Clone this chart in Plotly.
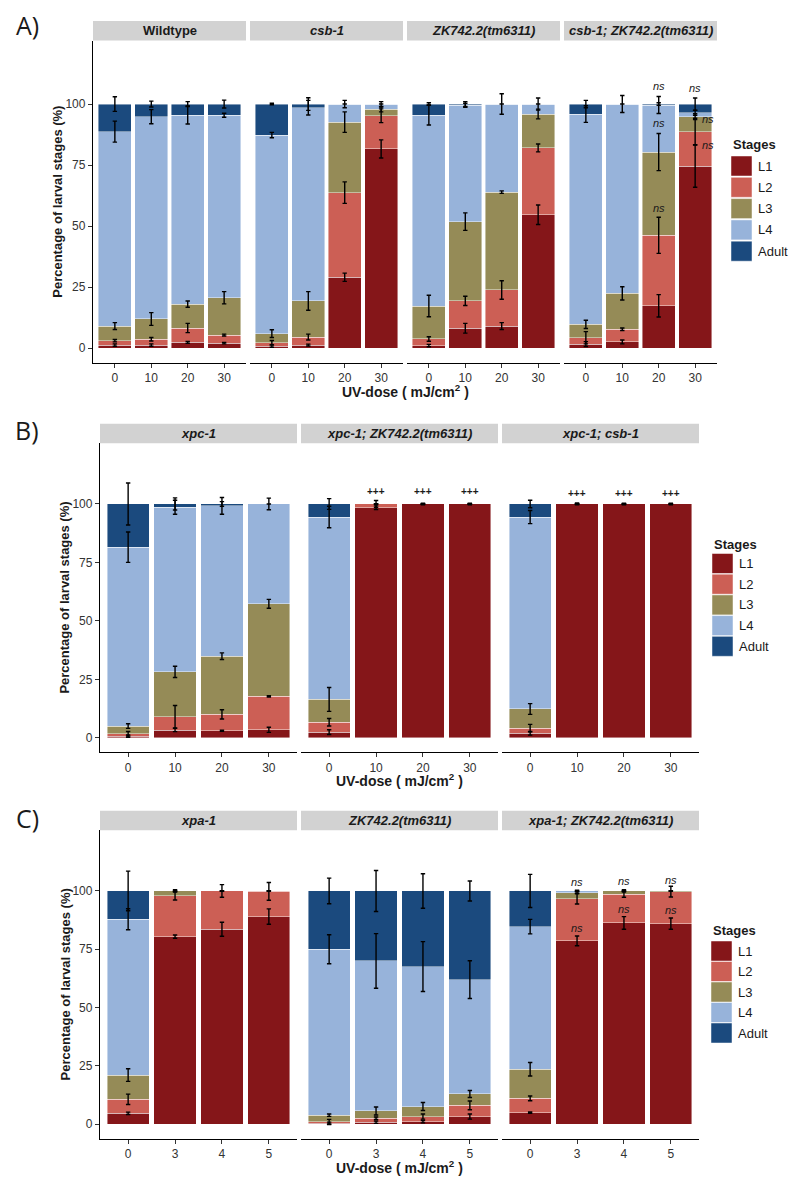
import numpy as np
import plotly.graph_objects as go

# page body has an 8 px default margin: the figure is placed at (8, 8)
OFF = 8
W, H = 784, 1171
STAGES = ["L1", "L2", "L3", "L4", "Adult"]
STAGE_COLORS = ["#851619", "#CC5F55", "#958B57", "#97B3DA", "#1B4A7E"]

# ---------------- Panel A (UV 0-30 mJ/cm2) ----------------
doses_A = ["0", "10", "20", "30"]
groups_A = ["Wildtype", "csb-1", "ZK742.2(tm6311)", "csb-1; ZK742.2(tm6311)"]
# rows = doses, columns = L1, L2, L3, L4, Adult (percent)
wildtype_pct = [[1.2, 1.8, 6.0, 79.7, 11.3], [1.2, 2.4, 8.3, 82.9, 5.2],
                [2.3, 5.9, 9.8, 77.5, 4.5], [2.0, 3.3, 15.3, 74.8, 4.6]]
wildtype_err = [[0.5, 0.5, 1.4, 4.3, 3.0], [0.5, 0.7, 2.6, 2.9, 1.2],
                [0.4, 1.9, 1.3, 3.7, 1.0], [0.3, 0.4, 2.5, 0.8, 1.6]]
csb1_pct = [[0.8, 1.4, 3.7, 81.4, 12.7], [1.2, 3.3, 14.8, 79.2, 1.5],
            [29.0, 34.7, 28.9, 7.4, 0.0], [81.6, 13.6, 2.6, 2.2, 0.0]]
csb1_err = [[0.5, 0.9, 1.6, 1.1, 0.3], [0.4, 1.2, 3.8, 3.0, 2.6],
            [1.7, 4.4, 4.2, 1.5, 0.0], [3.7, 2.8, 1.0, 1.0, 0.0]]
zk_pct = [[1.0, 2.7, 13.5, 78.3, 4.5], [8.1, 11.2, 32.5, 47.7, 0.5],
          [9.0, 14.8, 40.1, 36.1, 0.0], [54.6, 27.4, 13.9, 4.1, 0.0]]
zk_err = [[0.5, 0.9, 4.4, 4.1, 0.5], [2.0, 1.9, 3.6, 0.8, 1.0],
          [1.4, 3.8, 0.5, 4.2, 0.0], [4.0, 1.6, 2.0, 2.5, 0.0]]
csb1_zk_pct = [[1.6, 2.6, 5.5, 86.2, 4.1], [2.5, 5.2, 14.7, 77.6, 0.0],
               [17.3, 28.9, 34.1, 19.3, 0.4], [74.6, 14.1, 6.1, 1.6, 3.6]]
csb1_zk_err = [[1.0, 2.5, 1.7, 3.4, 1.5], [0.8, 0.5, 2.7, 3.5, 0.0],
               [4.6, 7.4, 7.6, 3.5, 0.5], [8.7, 5.5, 1.2, 1.0, 2.5]]

# ---------------- Panel B (UV 0-30 mJ/cm2) ----------------
doses_B = ["0", "10", "20", "30"]
groups_B = ["xpc-1", "xpc-1; ZK742.2(tm6311)", "xpc-1; csb-1"]
xpc1_pct = [[0.7, 1.0, 3.3, 76.5, 18.5], [3.3, 5.7, 19.2, 70.4, 1.4],
            [3.0, 7.0, 24.9, 64.3, 0.8], [3.4, 14.3, 39.6, 42.7, 0.0]]
xpc1_err = [[0.5, 1.0, 1.0, 6.5, 9.0], [0.7, 4.8, 2.4, 3.0, 2.6],
            [0.2, 2.0, 1.4, 3.6, 1.0], [1.1, 0.3, 1.9, 2.5, 0.0]]
xpc1_zk_pct = [[2.4, 4.2, 9.8, 78.0, 5.6], [98.4, 1.6, 0.0, 0.0, 0.0],
               [100.0, 0.0, 0.0, 0.0, 0.0], [100.0, 0.0, 0.0, 0.0, 0.0]]
xpc1_zk_err = [[1.0, 1.6, 5.1, 4.6, 2.3], [0.8, 1.5, 0.0, 0.0, 0.0],
               [0.3, 0.0, 0.0, 0.0, 0.0], [0.3, 0.0, 0.0, 0.0, 0.0]]
xpc1_csb1_pct = [[1.9, 2.2, 8.2, 82.1, 5.6], [100.0, 0.0, 0.0, 0.0, 0.0],
                 [100.0, 0.0, 0.0, 0.0, 0.0], [100.0, 0.0, 0.0, 0.0, 0.0]]
xpc1_csb1_err = [[0.8, 1.6, 2.3, 2.8, 1.6], [0.4, 0.0, 0.0, 0.0, 0.0],
                 [0.3, 0.0, 0.0, 0.0, 0.0], [0.3, 0.0, 0.0, 0.0, 0.0]]

# ---------------- Panel C (UV 0-5 mJ/cm2) ----------------
doses_C = ["0", "3", "4", "5"]
groups_C = ["xpa-1", "ZK742.2(tm6311)", "xpa-1; ZK742.2(tm6311)"]
xpa1_pct = [[4.7, 6.0, 10.4, 66.8, 12.1], [80.4, 17.5, 2.1, 0.0, 0.0],
            [83.6, 16.4, 0.0, 0.0, 0.0], [89.0, 10.8, 0.2, 0.0, 0.0]]
xpa1_err = [[0.5, 2.2, 2.7, 4.5, 8.5], [0.7, 1.8, 0.5, 0.0, 0.0],
            [3.0, 2.7, 0.0, 0.0, 0.0], [3.3, 3.8, 0.0, 0.0, 0.0]]
zkC_pct = [[0.4, 0.7, 2.8, 71.1, 25.0], [0.9, 1.7, 3.1, 64.3, 30.0],
           [1.1, 2.2, 4.3, 60.0, 32.4], [3.3, 4.8, 4.9, 49.0, 38.0]]
zkC_err = [[0.5, 1.0, 0.5, 6.2, 5.5], [0.5, 0.5, 1.7, 11.7, 8.8],
           [0.5, 1.1, 1.7, 10.7, 7.4], [1.1, 1.9, 1.5, 8.1, 4.3]]
xpa1_zk_pct = [[5.0, 6.1, 12.5, 61.1, 15.3], [78.6, 18.1, 2.6, 0.7, 0.0],
               [86.3, 12.3, 1.4, 0.0, 0.0], [86.0, 13.7, 0.3, 0.0, 0.0]]
xpa1_zk_err = [[0.3, 1.0, 2.9, 3.1, 7.1], [2.1, 2.3, 0.5, 0.3, 0.0],
               [2.7, 1.3, 0.5, 0.0, 0.0], [2.4, 2.3, 0.0, 0.0, 0.0]]

# significance marks: (panel index in row, dose index, y value, text, x shift px)
marks_A = [(3, 2, 107.5, "ns", 0), (3, 2, 92.3, "ns", 0), (3, 2, 57.5, "ns", 0),
           (3, 3, 106.4, "ns", 0), (3, 3, 93.7, "ns", 13), (3, 3, 83.2, "ns", 13)]
marks_B = [(1, 1, 105.5, "+++", 0), (1, 2, 105.5, "+++", 0), (1, 3, 105.5, "+++", 0),
           (2, 1, 104.6, "+++", 0), (2, 2, 104.6, "+++", 0), (2, 3, 104.6, "+++", 0)]
marks_C = [(2, 1, 104.0, "ns", 0), (2, 1, 84.0, "ns", 0),
           (2, 2, 104.3, "ns", 0), (2, 2, 92.3, "ns", 0),
           (2, 3, 104.7, "ns", 0), (2, 3, 91.9, "ns", 0)]

FONT = "Liberation Sans, Arial, Helvetica, sans-serif"
Y_RANGE = [-6.1, 126]


def PX(v):
    return (v - OFF) / W


def PY(v):
    return 1 - (v - OFF) / H


rows = [
    dict(label="A)", label_y=25, doses=doses_A, groups=groups_A,
         pct=[wildtype_pct, csb1_pct, zk_pct, csb1_zk_pct],
         err=[wildtype_err, csb1_err, zk_err, csb1_zk_err],
         xdom=[(93, 246), (250, 403), (407, 560), (564, 717)],
         ytop=40.6, ybot=362.9, marks=marks_A,
         leg_x=731, leg_title_y=145, leg_y0=156, leg_step=21.3),
    dict(label="B)", label_y=430, doses=doses_B, groups=groups_B,
         pct=[xpc1_pct, xpc1_zk_pct, xpc1_csb1_pct],
         err=[xpc1_err, xpc1_zk_err, xpc1_csb1_err],
         xdom=[(100, 297), (301, 498), (502, 699)],
         ytop=443.2, ybot=752.0, marks=marks_B,
         leg_x=712, leg_title_y=544, leg_y0=553.5, leg_step=20.7),
    dict(label="C)", label_y=818, doses=doses_C, groups=groups_C,
         pct=[xpa1_pct, zkC_pct, xpa1_zk_pct],
         err=[xpa1_err, zkC_err, xpa1_zk_err],
         xdom=[(100, 297), (301, 498), (502, 699)],
         ytop=830.3, ybot=1138.5, marks=marks_C,
         leg_x=711, leg_title_y=930, leg_y0=941, leg_step=20.5),
]

fig = go.Figure()
layout = dict(width=W, height=H, margin=dict(l=0, r=0, t=0, b=0),
              paper_bgcolor="white", plot_bgcolor="white", barmode="stack",
              showlegend=False, font=dict(family=FONT, color="#1a1a1a"))
shapes, annots = [], []

n = 0
for row in rows:
    first_n = n + 1
    for gi, gname in enumerate(row["groups"]):
        n += 1
        xa, ya = f"x{n}", f"y{n}"
        pct = np.array(row["pct"][gi], dtype=float)
        err = np.array(row["err"][gi], dtype=float)
        tops = np.cumsum(pct, axis=1)
        for si, stage in enumerate(STAGES):
            fig.add_trace(go.Bar(
                x=row["doses"], y=pct[:, si], name=stage, xaxis=xa, yaxis=ya,
                width=0.9, marker=dict(color=STAGE_COLORS[si],
                                       line=dict(color="rgba(255,255,255,0.55)", width=0.8)),
                hoverinfo="skip"))
        for si, stage in enumerate(STAGES):
            fig.add_trace(go.Scatter(
                x=row["doses"], y=tops[:, si], mode="markers", xaxis=xa, yaxis=ya,
                marker=dict(size=1, color="rgba(0,0,0,0)"),
                error_y=dict(type="data", array=err[:, si], visible=True,
                             color="black", thickness=1.4, width=2.2),
                hoverinfo="skip"))
        x0, x1 = row["xdom"][gi]
        is_first = gi == 0
        layout[f"xaxis{n}"] = dict(
            domain=[PX(x0), PX(x1)], anchor=ya, type="category",
            categoryorder="array", categoryarray=row["doses"],
            range=[-0.6, len(row["doses"]) - 0.4],
            showline=True, linecolor="black", linewidth=1.3, mirror=False,
            ticks="outside", ticklen=4, tickwidth=1, tickcolor="#333333",
            tickfont=dict(family=FONT, size=12, color="#333333"),
            showgrid=False, zeroline=False, fixedrange=True)
        layout[f"yaxis{n}"] = dict(
            domain=[PY(row["ybot"]), PY(row["ytop"])], anchor=xa,
            range=Y_RANGE, tickvals=[0, 25, 50, 75, 100],
            showline=is_first, linecolor="black", linewidth=1.3,
            ticks="outside" if is_first else "", ticklen=4, tickwidth=1,
            tickcolor="#333333", showticklabels=is_first,
            tickfont=dict(family=FONT, size=12, color="#333333"),
            showgrid=False, zeroline=False, fixedrange=True)
        # strip
        shapes.append(dict(type="rect", xref="paper", yref="paper",
                           x0=PX(x0), x1=PX(x1),
                           y0=PY(row["ytop"]), y1=PY(row["ytop"] - 19.5),
                           fillcolor="#D2D2D2", line=dict(width=0), layer="below"))
        stxt = f"<b>{gname}</b>" if gname == "Wildtype" else f"<b><i>{gname}</i></b>"
        annots.append(dict(text=stxt, xref="paper", yref="paper",
                           x=PX((x0 + x1) / 2), y=PY(row["ytop"] - 9.8),
                           xanchor="center", yanchor="middle", showarrow=False,
                           font=dict(family=FONT, size=13, color="#1a1a1a")))
    # significance marks (x given as category index)
    for (pi, di, yv, txt, xs) in row["marks"]:
        ax = first_n + pi
        annots.append(dict(text=f"<i>{txt}</i>" if txt == "ns" else f"<b>{txt}</b>",
                           xref=f"x{ax}", yref=f"y{ax}",
                           x=di, y=yv, xshift=xs,
                           xanchor="center", yanchor="middle", showarrow=False,
                           font=dict(family=FONT, size=11 if txt == "ns" else 10,
                                     color="#1a1a1a")))
    # axis titles
    xl = row["xdom"][0][0]
    xr = row["xdom"][-1][1]
    annots.append(dict(text="<b>UV-dose ( mJ/cm<sup>2</sup> )</b>", xref="paper", yref="paper",
                       x=PX((xl + xr) / 2), y=PY(row["ybot"] + 28),
                       xanchor="center", yanchor="middle", showarrow=False,
                       font=dict(family=FONT, size=14, color="#1a1a1a")))
    annots.append(dict(text="<b>Percentage of larval stages (%)</b>", xref="paper", yref="paper",
                       x=PX(xl - 35), y=PY((row["ytop"] + row["ybot"]) / 2),
                       xanchor="center", yanchor="middle", textangle=-90, showarrow=False,
                       font=dict(family=FONT, size=13, color="#1a1a1a")))
    # panel label
    annots.append(dict(text=row["label"], xref="paper", yref="paper",
                       x=PX(27), y=PY(row["label_y"]), xanchor="center", yanchor="middle",
                       showarrow=False, font=dict(family="Open Sans, sans-serif", size=25,
                                                  color="#1a1a1a")))
    # legend (drawn by hand to match key size)
    lx = row["leg_x"]
    annots.append(dict(text="<b>Stages</b>", xref="paper", yref="paper",
                       x=PX(lx), y=PY(row["leg_title_y"]), xanchor="left",
                       yanchor="middle", showarrow=False,
                       font=dict(family=FONT, size=13, color="#1a1a1a")))
    for si, stage in enumerate(STAGES):
        ky0 = row["leg_y0"] + si * row["leg_step"]
        shapes.append(dict(type="rect", xref="paper", yref="paper",
                           x0=PX(lx), x1=PX(lx + 21),
                           y0=PY(ky0 + 20), y1=PY(ky0),
                           fillcolor=STAGE_COLORS[si],
                           line=dict(color="rgba(255,255,255,0.6)", width=0.8)))
        annots.append(dict(text=stage, xref="paper", yref="paper",
                           x=PX(lx + 25), y=PY(ky0 + 10), xanchor="left",
                           yanchor="middle", showarrow=False,
                           font=dict(family=FONT, size=13, color="#1a1a1a")))

layout["shapes"] = shapes
layout["annotations"] = annots
fig.update_layout(**layout)
fig.write_html("out.html")
